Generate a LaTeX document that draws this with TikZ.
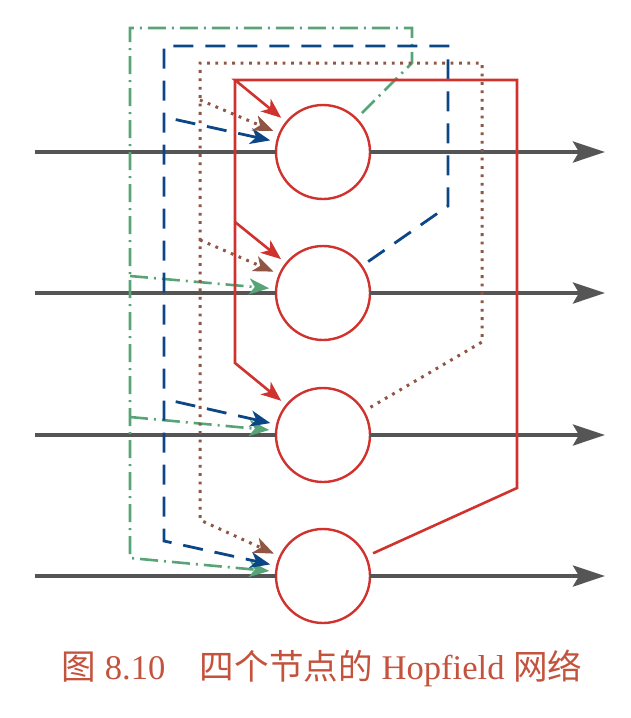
\documentclass[tikz,border=0pt]{standalone}
\usepackage{fontspec}
\setmainfont{Liberation Serif}
\newfontfamily\cjk{Noto Sans CJK SC}
\usetikzlibrary{arrows.meta}
\definecolor{myred}{HTML}{D0322D}
\definecolor{myblue}{HTML}{0B4687}
\definecolor{mybrown}{HTML}{8E5643}
\definecolor{mygreen}{HTML}{57A577}
\definecolor{mygrey}{HTML}{555555}
\definecolor{capcol}{HTML}{C4533E}
\begin{document}
\begin{tikzpicture}[x=0.5pt,y=-0.5pt,
  neuron/.style={circle, draw=myred, line width=1.2pt, fill=white, minimum size=47pt, inner sep=0pt, outer sep=0pt},
  axon/.style={draw=mygrey, line width=2pt},
  axonout/.style={axon, -{Stealth[length=16pt,width=10.5pt,inset=3pt]}},
  tipin/.style={-{Stealth[length=10pt,width=8pt,inset=2.8pt]}, shorten >=3.5pt},
  startgap/.style={shorten <=4pt},
  redfb/.style={draw=myred, line width=1.3pt},
  bluefb/.style={draw=myblue, line width=1.4pt, dash pattern=on 10pt off 6pt},
  brownfb/.style={draw=mybrown, line width=1.5pt, dash pattern=on 1.4pt off 2.8pt},
  greenfb/.style={draw=mygreen, line width=1.3pt, dash pattern=on 9pt off 3pt on 1pt off 3pt},
]
\useasboundingbox (0,0) rectangle (631,718);

% neurons
\node[neuron] (n1) at (323,152) {};
\node[neuron] (n2) at (323,293) {};
\node[neuron] (n3) at (323,435) {};
\node[neuron] (n4) at (323,576) {};

% axons
\coordinate (in1) at (35,152);  \coordinate (out1) at (605,152);
\coordinate (in2) at (35,293);  \coordinate (out2) at (605,293);
\coordinate (in3) at (35,435);  \coordinate (out3) at (605,435);
\coordinate (in4) at (35,576);  \coordinate (out4) at (605,576);
\foreach \i in {1,2,3,4}{
  \draw[axon] (in\i) -- (n\i);
  \draw[axonout] (n\i) -- (out\i);
}

% green feedback (from neuron 1)
\coordinate (g1) at (412,63);
\coordinate (g2) at (412,28);
\coordinate (g3) at (130,28);
\coordinate (gb) at (130,276);
\coordinate (gc) at (130,417);
\coordinate (gd) at (130,558);
\draw[greenfb, startgap, tipin] (n1) -- (g1) -- (g2) -- (g3) -- (gd) -- (n4);
\draw[greenfb, tipin] (gb) -- (n2);
\draw[greenfb, tipin] (gc) -- (n3);

% blue feedback (from neuron 2)
\coordinate (b1) at (448,206);
\coordinate (b2) at (448,46);
\coordinate (b3) at (164,46);
\coordinate (ba) at (164,117);
\coordinate (bc) at (164,399);
\coordinate (bd) at (164,541);
\draw[bluefb, startgap, tipin] (n2) -- (b1) -- (b2) -- (b3) -- (bd) -- (n4);
\draw[bluefb, tipin, dash phase=10pt] (ba) -- (n1);
\draw[bluefb, tipin, dash phase=10pt] (bc) -- (n3);

% brown feedback (from neuron 3)
\coordinate (w1) at (482,342);
\coordinate (w2) at (482,63);
\coordinate (w3) at (200,63);
\coordinate (wa) at (200,100);
\coordinate (wb) at (200,240);
\coordinate (wd) at (200,520);
\draw[brownfb, startgap, tipin] (n3) -- (w1) -- (w2) -- (w3) -- (wd) -- (n4);
\draw[brownfb, tipin] (wa) -- (n1);
\draw[brownfb, tipin] (wb) -- (n2);

% red feedback (from neuron 4)
\coordinate (r1) at (517,488);
\coordinate (r2) at (517,80);
\coordinate (r3) at (235,80);
\coordinate (rb) at (235,222);
\coordinate (rc) at (235,363);
\draw[redfb, startgap, tipin] (n4) -- (r1) -- (r2) -- (r3) -- (n1);
\draw[redfb, tipin] (r3) -- (rc) -- (n3);
\draw[redfb, tipin] (rb) -- (n2);

% caption
\node[text=capcol, font=\fontsize{17.3}{21}\selectfont, inner sep=0pt] (cap) at (322,668)
  {{\cjk 图} 8.10\quad{\cjk 四个节点的} Hopfield {\cjk 网络}};
\end{tikzpicture}
\end{document}
